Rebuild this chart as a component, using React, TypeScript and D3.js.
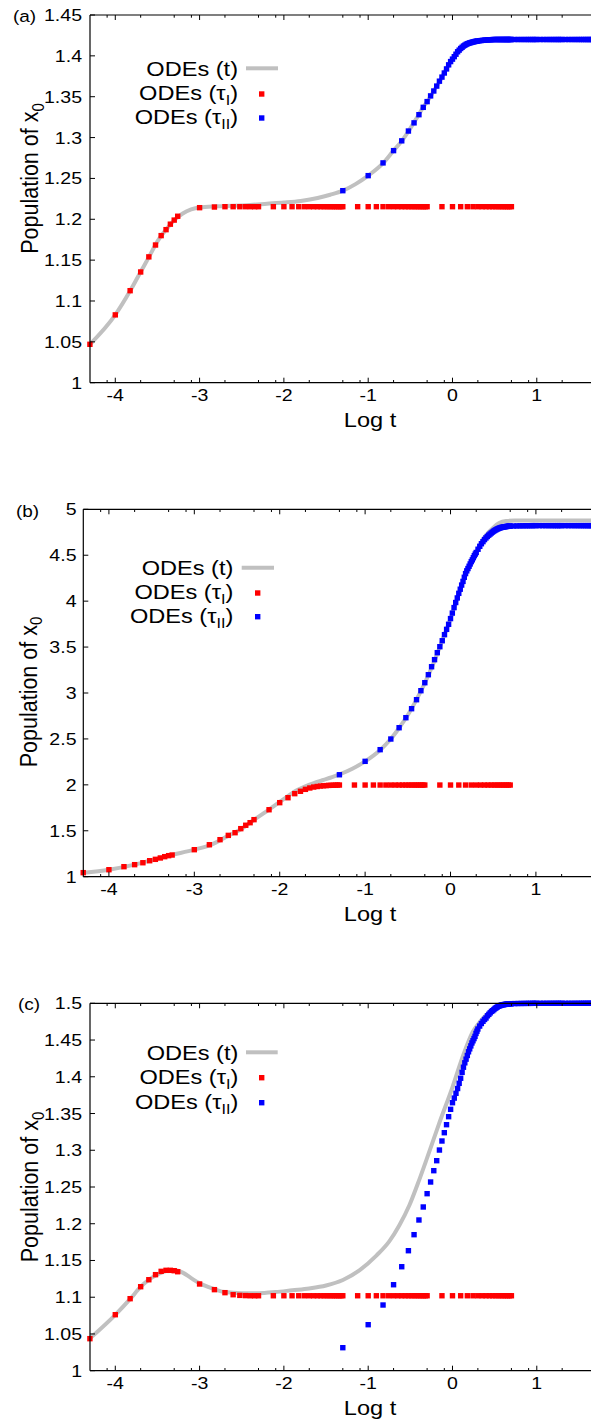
import React from 'react';
import * as d3 from 'd3';

// ---------- DATA ----------
// time points (t) of the tau_I series (red squares)
const T_RED = [
  5e-5, 1e-4, 1.5e-4, 2e-4, 2.5e-4, 3e-4, 3.5e-4, 4e-4, 4.5e-4, 5e-4, 5.5e-4,
  1e-3, 1.5e-3, 2e-3, 2.5e-3, 3e-3, 3.5e-3, 4e-3, 4.5e-3, 5e-3,
  7.5e-3,
  0.01, 0.0125, 0.015, 0.0175, 0.02, 0.0225, 0.025, 0.0275, 0.03, 0.0325, 0.035, 0.0375, 0.04, 0.0425, 0.045, 0.0475, 0.05,
  0.075, 0.1, 0.125, 0.15, 0.175, 0.2, 0.225, 0.25, 0.275, 0.3, 0.325, 0.35, 0.375, 0.4, 0.425, 0.45, 0.475, 0.5,
  0.75, 1, 1.25, 1.5, 1.75, 2, 2.25, 2.5, 2.75, 3, 3.25, 3.5, 3.75, 4, 4.25, 4.5, 4.75, 5,
];

const RED_A = [
  1.047, 1.083, 1.1126, 1.1355, 1.154, 1.1685, 1.18, 1.1873, 1.194, 1.199, 1.2037,
  1.2142, 1.215, 1.2154, 1.2154, 1.2154, 1.2154, 1.2154, 1.2154, 1.2154,
  1.2154,
  1.2154, 1.2154, 1.2154, 1.2154, 1.2154, 1.2154, 1.2154, 1.2154, 1.2154, 1.2154, 1.2154, 1.2154, 1.2154, 1.2154, 1.2154, 1.2154, 1.2154,
  1.2154, 1.2154, 1.2154, 1.2154, 1.2154, 1.2154, 1.2154, 1.2154, 1.2154, 1.2154, 1.2154, 1.2154, 1.2154, 1.2154, 1.2154, 1.2154, 1.2154, 1.2154,
  1.2154, 1.2154, 1.2154, 1.2154, 1.2154, 1.2154, 1.2154, 1.2154, 1.2154, 1.2154, 1.2154, 1.2154, 1.2154, 1.2154, 1.2154, 1.2154, 1.2154, 1.2154,
];

const RED_B = [
  1.044, 1.076, 1.109, 1.131, 1.152, 1.174, 1.189, 1.204, 1.218, 1.229, 1.236,
  1.294, 1.348, 1.403, 1.45, 1.479, 1.523, 1.56, 1.588, 1.621,
  1.729,
  1.806, 1.86, 1.904, 1.93, 1.951, 1.966, 1.976, 1.982, 1.987, 1.99, 1.992, 1.994, 1.995, 1.996, 1.997, 1.998, 1.998,
  1.998, 1.998, 1.998, 1.998, 1.998, 1.998, 1.998, 1.998, 1.998, 1.998, 1.998, 1.998, 1.998, 1.998, 1.998, 1.998, 1.998, 1.998,
  1.998, 1.998, 1.998, 1.998, 1.998, 1.998, 1.998, 1.998, 1.998, 1.998, 1.998, 1.998, 1.998, 1.998, 1.998, 1.998, 1.998, 1.998,
];

const RED_C = [
  1.0436, 1.0762, 1.098, 1.1143, 1.1238, 1.1307, 1.1352, 1.1366, 1.1366, 1.1361, 1.1347,
  1.118, 1.1103, 1.1062, 1.1034, 1.1025, 1.1022, 1.102, 1.102, 1.102,
  1.102,
  1.102, 1.102, 1.102, 1.102, 1.102, 1.102, 1.102, 1.102, 1.102, 1.102, 1.102, 1.102, 1.102, 1.102, 1.102, 1.102, 1.102,
  1.102, 1.102, 1.102, 1.102, 1.102, 1.102, 1.102, 1.102, 1.102, 1.102, 1.102, 1.102, 1.102, 1.102, 1.102, 1.102, 1.102, 1.102,
  1.102, 1.102, 1.102, 1.102, 1.102, 1.102, 1.102, 1.102, 1.102, 1.102, 1.102, 1.102, 1.102, 1.102, 1.102, 1.102, 1.102, 1.102,
];

// time points (t) of the tau_II series (blue squares)
const T_BLUE = [
  0.05, 0.1, 0.15, 0.2, 0.25, 0.3, 0.35, 0.4, 0.45, 0.5,
  0.55, 0.6, 0.65, 0.7, 0.75, 0.8, 0.85, 0.9, 0.95, 1.0,
  1.05, 1.1, 1.15, 1.2, 1.25, 1.3, 1.35, 1.4, 1.45, 1.5,
  1.55, 1.6, 1.65, 1.7, 1.75, 1.8, 1.85, 1.9, 1.95, 2.0,
  2.1, 2.2, 2.3, 2.4, 2.5, 2.6, 2.7, 2.8, 2.9, 3.0,
  3.1, 3.2, 3.3, 3.4, 3.5, 3.6, 3.7, 3.8, 3.9, 4.0,
  4.1, 4.2, 4.3, 4.4, 4.5, 4.6, 4.7, 4.8, 4.9, 5.0,
  5.5, 6, 6.5, 7, 7.5, 8, 8.5, 9, 9.5, 10,
  11, 12, 13, 14, 15, 16, 17, 18, 19, 20,
  22, 24, 26, 28, 30, 32, 34, 36, 38, 40, 42, 44, 46,
];

const BLUE_A = [
  1.235, 1.2534, 1.269, 1.284, 1.296, 1.308, 1.318, 1.328, 1.337, 1.344,
  1.351, 1.357, 1.363, 1.369, 1.374, 1.379, 1.384, 1.389, 1.393, 1.396,
  1.399, 1.402, 1.405, 1.407, 1.409, 1.4105, 1.412, 1.413, 1.414, 1.4148,
  1.4153, 1.4158, 1.4162, 1.4166, 1.417, 1.4173, 1.4176, 1.4178, 1.418, 1.4182,
  1.4185, 1.4188, 1.419, 1.4192, 1.4194, 1.4195, 1.4196, 1.4197, 1.4198, 1.4199,
  1.42, 1.42, 1.42, 1.42, 1.42, 1.42, 1.42, 1.42, 1.42, 1.42,
  1.42, 1.42, 1.42, 1.42, 1.42, 1.42, 1.42, 1.42, 1.42, 1.42,
  1.42, 1.42, 1.42, 1.42, 1.42, 1.42, 1.42, 1.42, 1.42, 1.42,
  1.42, 1.42, 1.42, 1.42, 1.42, 1.42, 1.42, 1.42, 1.42, 1.42,
  1.42, 1.42, 1.42, 1.42, 1.42, 1.42, 1.42, 1.42, 1.42, 1.42, 1.42, 1.42, 1.42,
];

const BLUE_B = [
  2.11, 2.256, 2.383, 2.499, 2.622, 2.731, 2.829, 2.927, 3.025, 3.112,
  3.199, 3.286, 3.363, 3.439, 3.504, 3.569, 3.635, 3.693, 3.748, 3.81,
  3.87, 3.93, 3.985, 4.035, 4.085, 4.13, 4.175, 4.215, 4.26, 4.3,
  4.33, 4.355, 4.38, 4.405, 4.43, 4.45, 4.473, 4.495, 4.513, 4.53,
  4.565, 4.597, 4.625, 4.648, 4.67, 4.688, 4.704, 4.718, 4.73, 4.742,
  4.752, 4.762, 4.77, 4.777, 4.784, 4.789, 4.794, 4.798, 4.801, 4.804,
  4.806, 4.808, 4.81, 4.811, 4.813, 4.814, 4.815, 4.816, 4.817, 4.817,
  4.818, 4.819, 4.82, 4.82, 4.821, 4.821, 4.821, 4.822, 4.822, 4.822,
  4.822, 4.822, 4.822, 4.822, 4.822, 4.822, 4.822, 4.822, 4.822, 4.822,
  4.822, 4.822, 4.822, 4.822, 4.822, 4.822, 4.822, 4.822, 4.822, 4.822, 4.822, 4.822, 4.822,
];

const BLUE_C = [
  1.0313, 1.0626, 1.0894, 1.117, 1.1415, 1.1633, 1.1851, 1.2051, 1.2228, 1.2409,
  1.2568, 1.2722, 1.2858, 1.3003, 1.3126, 1.3239, 1.3348, 1.3457, 1.3557, 1.3647,
  1.371, 1.3775, 1.384, 1.3911, 1.398, 1.406, 1.413, 1.419, 1.424, 1.429,
  1.434, 1.438, 1.442, 1.446, 1.449, 1.452, 1.455, 1.459, 1.462, 1.465,
  1.469, 1.4725, 1.4755, 1.478, 1.48, 1.483, 1.485, 1.487, 1.489, 1.49,
  1.4915, 1.493, 1.494, 1.495, 1.496, 1.4965, 1.497, 1.4975, 1.498, 1.498,
  1.4983, 1.4985, 1.4987, 1.4988, 1.499, 1.499, 1.4992, 1.4993, 1.4994, 1.4995,
  1.4996, 1.4997, 1.4998, 1.4998, 1.4999, 1.4999, 1.4999, 1.5, 1.5, 1.5,
  1.5, 1.5, 1.5, 1.5, 1.5, 1.5, 1.5, 1.5, 1.5, 1.5,
  1.5, 1.5, 1.5, 1.5, 1.5, 1.5, 1.5, 1.5, 1.5, 1.5, 1.5, 1.5, 1.5,
];

// ODEs (t) curves: log10 t and population
const LINE_A_LOGT = [-4.3, -4.0, -3.82, -3.7, -3.6, -3.5, -3.4, -3.3, -3.2, -3.1, -3.0, -2.8, -2.6, -2.4, -2.2, -2.0, -1.8, -1.6, -1.45, -1.3, -1.15, -1.0, -0.82, -0.7, -0.6, -0.52, -0.46, -0.4, -0.35, -0.3, -0.25, -0.2, -0.15, -0.1, -0.05, 0, 0.05, 0.1, 0.15, 0.2, 0.3, 0.4, 2];
const LINE_A_Y = [1.047, 1.083, 1.113, 1.1355, 1.154, 1.173, 1.187, 1.199, 1.207, 1.212, 1.2145, 1.2158, 1.2165, 1.2175, 1.219, 1.2205, 1.2225, 1.226, 1.23, 1.235, 1.243, 1.2534, 1.269, 1.284, 1.296, 1.308, 1.318, 1.328, 1.337, 1.344, 1.352, 1.361, 1.369, 1.379, 1.388, 1.396, 1.404, 1.409, 1.4135, 1.4158, 1.4182, 1.4194, 1.42];

const LINE_B_LOGT = [-4.3, -4.0, -3.7, -3.5, -3.3, -3.0, -2.8, -2.6, -2.45, -2.3, -2.15, -2.0, -1.9, -1.8, -1.7, -1.6, -1.5, -1.4, -1.3, -1.15, -1.0, -0.82, -0.7, -0.6, -0.5, -0.4, -0.3, -0.2, -0.1, 0, 0.1, 0.2, 0.3, 0.4, 0.5, 0.57, 0.65, 0.75, 2];
const LINE_B_Y = [1.044, 1.076, 1.131, 1.178, 1.229, 1.294, 1.35, 1.447, 1.52, 1.62, 1.715, 1.815, 1.88, 1.94, 1.985, 2.02, 2.05, 2.08, 2.113, 2.175, 2.256, 2.383, 2.499, 2.622, 2.76, 2.925, 3.11, 3.32, 3.565, 3.81, 4.09, 4.35, 4.535, 4.7, 4.8, 4.85, 4.872, 4.877, 4.877];

const LINE_C_LOGT = [-4.3, -4.0, -3.82, -3.7, -3.6, -3.5, -3.4, -3.3, -3.2, -3.1, -3.0, -2.9, -2.8, -2.7, -2.5, -2.3, -2.1, -1.9, -1.7, -1.5, -1.3, -1.1, -0.9, -0.75, -0.63, -0.51, -0.4, -0.3, -0.16, 0, 0.12, 0.24, 0.32, 0.4, 0.55, 0.7, 2];
const LINE_C_Y = [1.044, 1.076, 1.098, 1.114, 1.124, 1.131, 1.1355, 1.137, 1.1335, 1.126, 1.119, 1.114, 1.11, 1.107, 1.1055, 1.1055, 1.107, 1.1095, 1.112, 1.116, 1.1235, 1.137, 1.157, 1.176, 1.198, 1.2255, 1.258, 1.29, 1.336, 1.386, 1.427, 1.461, 1.474, 1.484, 1.497, 1.4995, 1.5];

const X_MAJOR = [-4, -3, -2, -1, 0, 1];
const X_MINOR_MANTISSA = [2, 5, 8];
const Y_TICKS_A = [1, 1.05, 1.1, 1.15, 1.2, 1.25, 1.3, 1.35, 1.4, 1.45];
const Y_TICKS_B = [1, 1.5, 2, 2.5, 3, 3.5, 4, 4.5, 5];
const Y_TICKS_C = [1, 1.05, 1.1, 1.15, 1.2, 1.25, 1.3, 1.35, 1.4, 1.45, 1.5];
const PANEL_LABELS = ['(a)', '(b)', '(c)'];
const X_TITLE = 'Log t';

// ---------- LAYOUT / STYLE ----------
const FONT = "'Liberation Sans', Arial, Helvetica, sans-serif";
const SX = 1.15;
const RED = '#ff0000';
const BLUE = '#0000ff';
const GRAY = '#c0c0c0';
const SQ = 5.4;
const LOG_MIN = -4.3;
const LOG_MAX = 2;

function SText({ x, y, size, anchor = 'start', rotate = false, children }: any) {
  return (
    <text
      transform={`translate(${x},${y}) scale(${SX},1)${rotate ? ' rotate(-90)' : ''}`}
      fontSize={size}
      textAnchor={anchor}
      fontFamily={FONT}
      fill="#000"
    >
      {children}
    </text>
  );
}

const panels = [
  {
    label: PANEL_LABELS[0], labelX: 13, labelY: 21.5,
    left: 90, top: 15, bottom: 382.7, ppu: 84.3,
    yDomain: [1, 1.45], yTicks: Y_TICKS_A, yLabX: 82,
    red: RED_A, blue: BLUE_A, lx: LINE_A_LOGT, ly: LINE_A_Y,
    legX: 238, legRows: [68.3, 94, 118], legLine: [246, 278], legSq: 261.7,
    titleX: 38, titleY: 178.5,
  },
  {
    label: PANEL_LABELS[1], labelX: 16, labelY: 516.5,
    left: 83.3, top: 509.3, bottom: 876.7, ppu: 85.4,
    yDomain: [1, 5], yTicks: Y_TICKS_B, yLabX: 76.5,
    red: RED_B, blue: BLUE_B, lx: LINE_B_LOGT, ly: LINE_B_Y,
    legX: 233.3, legRows: [567.7, 593, 616.7], legLine: [241.7, 274], legSq: 257.7,
    titleX: 36.5, titleY: 692,
  },
  {
    label: PANEL_LABELS[2], labelX: 18, labelY: 1009.5,
    left: 90, top: 1003.3, bottom: 1370.7, ppu: 84.3,
    yDomain: [1, 1.5], yTicks: Y_TICKS_C, yLabX: 82,
    red: RED_C, blue: BLUE_C, lx: LINE_C_LOGT, ly: LINE_C_Y,
    legX: 238.3, legRows: [1052.3, 1077.7, 1102.7], legLine: [246, 277.7], legSq: 261.7,
    titleX: 38, titleY: 1187,
  },
];

const minorTicks: number[] = [];
for (let k = -5; k <= 1; k++) {
  X_MINOR_MANTISSA.forEach((m) => {
    const v = k + Math.log10(m);
    if (v > LOG_MIN && v < LOG_MAX) minorTicks.push(v);
  });
}

function Panel({ p }: any) {
  const x = d3.scaleLinear().domain([LOG_MIN, LOG_MAX]).range([p.left, p.left + (LOG_MAX - LOG_MIN) * p.ppu]);
  const y = d3.scaleLinear().domain(p.yDomain).range([p.bottom, p.top]);
  const right = x(LOG_MAX);
  const line = d3
    .line<number>()
    .x((_, i) => x(p.lx[i]))
    .y((d) => y(d))
    .curve(d3.curveMonotoneX);
  const fmt = (v: number) => String(+v.toFixed(2));
  const xTitleX = 370;
  return (
    <g>
      {/* ODEs (t) line */}
      <path d={line(p.ly) || ''} fill="none" stroke={GRAY} strokeWidth={4} strokeLinejoin="round" />
      {/* tau_I points */}
      {T_RED.map((t, i) => (
        <rect key={'r' + i} x={x(Math.log10(t)) - SQ / 2} y={y(p.red[i]) - SQ / 2} width={SQ} height={SQ} fill={RED} />
      ))}
      {/* tau_II points */}
      {T_BLUE.map((t, i) => (
        <rect key={'b' + i} x={x(Math.log10(t)) - SQ / 2} y={y(p.blue[i]) - SQ / 2} width={SQ} height={SQ} fill={BLUE} />
      ))}

      {/* frame */}
      <line x1={p.left} x2={right} y1={p.top} y2={p.top} stroke="#000" strokeWidth={1.2} />
      <line x1={p.left} x2={right} y1={p.bottom} y2={p.bottom} stroke="#000" strokeWidth={1.2} />
      <line x1={p.left} x2={p.left} y1={p.top} y2={p.bottom} stroke="#000" strokeWidth={1.2} />

      {/* x ticks */}
      {X_MAJOR.map((v) => (
        <g key={'xm' + v}>
          <line x1={x(v)} x2={x(v)} y1={p.bottom} y2={p.bottom - 5} stroke="#000" strokeWidth={1} />
          <line x1={x(v)} x2={x(v)} y1={p.top} y2={p.top + 5} stroke="#000" strokeWidth={1} />
          <SText x={x(v)} y={p.bottom + 18} size={17} anchor="middle">{String(v)}</SText>
        </g>
      ))}
      {minorTicks.map((v, i) => (
        <g key={'xn' + i}>
          <line x1={x(v)} x2={x(v)} y1={p.bottom} y2={p.bottom - 2.7} stroke="#000" strokeWidth={1} />
          <line x1={x(v)} x2={x(v)} y1={p.top} y2={p.top + 2.7} stroke="#000" strokeWidth={1} />
        </g>
      ))}

      {/* y ticks */}
      {p.yTicks.map((v: number) => (
        <g key={'y' + v}>
          <line x1={p.left} x2={p.left + 5} y1={y(v)} y2={y(v)} stroke="#000" strokeWidth={1} />
          <SText x={p.yLabX} y={y(v) + 6} size={17} anchor="end">{fmt(v)}</SText>
        </g>
      ))}

      {/* titles */}
      <SText x={xTitleX} y={p.bottom + 44} size={20.5} anchor="middle">{X_TITLE}</SText>
      <SText x={p.titleX} y={p.titleY} size={21.5} anchor="middle" rotate>
        <tspan>Population of x</tspan>
        <tspan fontSize={15} dy={5}>0</tspan>
      </SText>
      <SText x={p.labelX} y={p.labelY} size={16.5}>{p.label}</SText>

      {/* legend */}
      <SText x={p.legX} y={p.legRows[0] + 7.3} size={20.5} anchor="end">ODEs (t)</SText>
      <line x1={p.legLine[0]} x2={p.legLine[1]} y1={p.legRows[0]} y2={p.legRows[0]} stroke={GRAY} strokeWidth={4} />
      <SText x={p.legX} y={p.legRows[1] + 6} size={20.5} anchor="end">
        <tspan>ODEs (τ</tspan>
        <tspan fontSize={14} dy={5}>I</tspan>
        <tspan dy={-5}>)</tspan>
      </SText>
      <rect x={p.legSq - SQ / 2} y={p.legRows[1] - SQ / 2} width={SQ} height={SQ} fill={RED} />
      <SText x={p.legX} y={p.legRows[2] + 6} size={20.5} anchor="end">
        <tspan>ODEs (τ</tspan>
        <tspan fontSize={14} dy={5}>II</tspan>
        <tspan dy={-5}>)</tspan>
      </SText>
      <rect x={p.legSq - SQ / 2} y={p.legRows[2] - SQ / 2} width={SQ} height={SQ} fill={BLUE} />
    </g>
  );
}

export default function App() {
  return (
    <svg
      width={591}
      height={1423}
      style={{ position: 'absolute', left: 0, top: 0, background: '#fff' }}
    >
      <rect x={0} y={0} width={591} height={1423} fill="#fff" />
      {panels.map((p, i) => (
        <Panel key={i} p={p} />
      ))}
    </svg>
  );
}
